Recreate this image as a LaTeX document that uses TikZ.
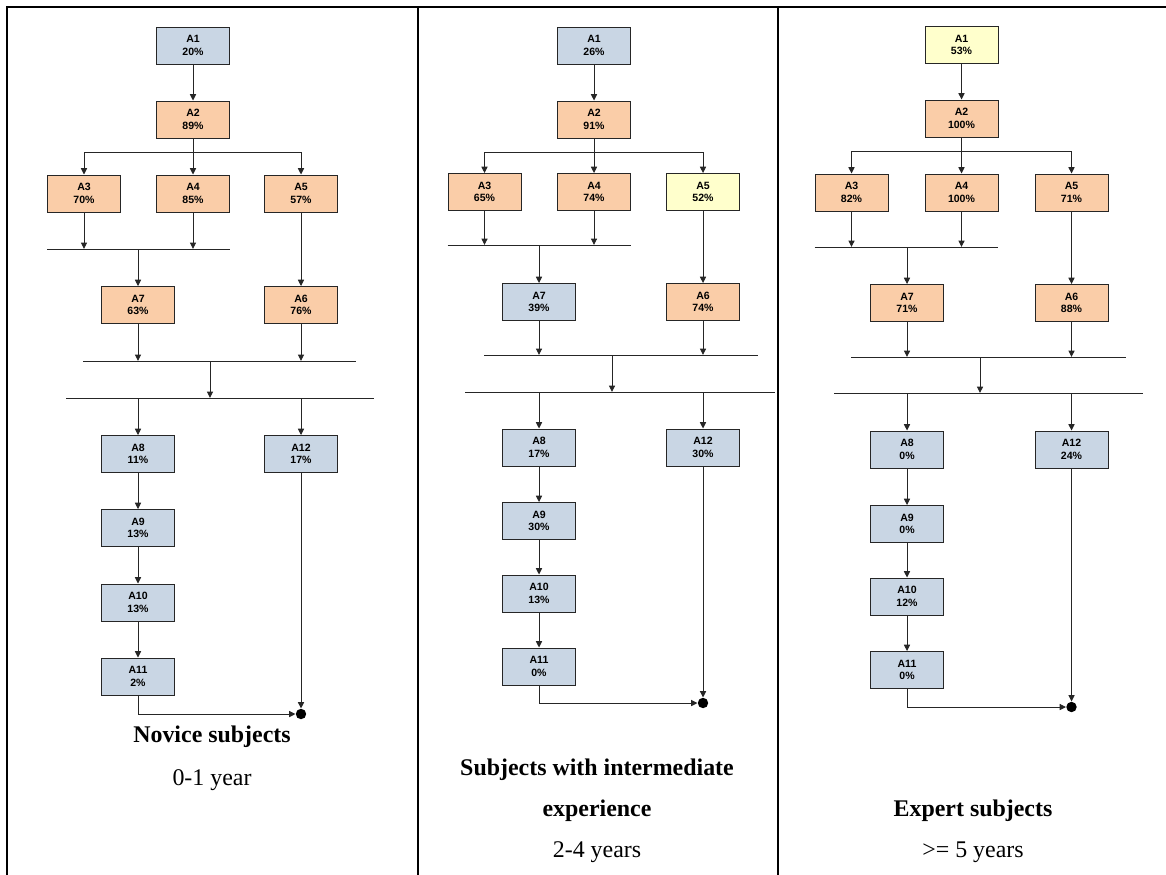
\documentclass[tikz,border=0pt]{standalone}
\usepackage{fontspec}
\setmainfont{Liberation Serif}
\setsansfont{Liberation Sans}
\usepackage{tikz}
\usetikzlibrary{arrows.meta}

\definecolor{boxblue}{RGB}{201,214,228}
\definecolor{boxorange}{RGB}{250,205,168}
\definecolor{boxyellow}{RGB}{255,255,204}

\tikzset{
  act/.style={draw=black!85, line width=0.65pt, minimum width=1.825cm, minimum height=0.925cm,
    inner sep=0pt, align=center, font=\fontsize{7.5}{8.9}\selectfont\sffamily\bfseries},
  actblue/.style={act, fill=boxblue},
  actorange/.style={act, fill=boxorange},
  actyellow/.style={act, fill=boxyellow},
  arr/.style={draw=black!85, line width=0.7pt, -{Triangle[length=4.6pt,width=4.4pt]}},
  bar/.style={draw=black!85, line width=0.7pt},
  enddot/.style={circle, fill=black, inner sep=0pt, minimum size=0.26cm},
  rule/.style={line width=1.45pt},
  title/.style={anchor=base, font=\fontsize{17}{20}\selectfont\bfseries},
  subtitle/.style={anchor=base, font=\fontsize{17}{20}\selectfont}
}

\begin{document}
\begin{tikzpicture}[x=0.025cm,y=-0.025cm]
\useasboundingbox (0,0) rectangle (1166,875);
% table
\draw[rule] (7,6.7) -- (1166,6.7);
\draw[rule] (7,6) -- (7,875);
\draw[rule] (417.7,6) -- (417.7,875);
\draw[rule] (777.8,6) -- (777.8,875);

% novice subjects
\node[actblue] (nA1) at (193,45.5) {A1\\20\%};
\node[actorange] (nA2) at (193,119.5) {A2\\89\%};
\node[actorange] (nA3) at (84,193.5) {A3\\70\%};
\node[actorange] (nA4) at (193,193.5) {A4\\85\%};
\node[actorange] (nA5) at (301,193.5) {A5\\57\%};
\node[actorange] (nA7) at (138,305) {A7\\63\%};
\node[actorange] (nA6) at (301,305) {A6\\76\%};
\node[actblue] (nA8) at (138,454) {A8\\11\%};
\node[actblue] (nA12) at (301,454) {A12\\17\%};
\node[actblue] (nA9) at (138,528) {A9\\13\%};
\node[actblue] (nA10) at (138,602.5) {A10\\13\%};
\node[actblue] (nA11) at (138,676.5) {A11\\2\%};
\node[enddot] (nE) at (301,714) {};
\coordinate (nB) at (193,152);
\coordinate (nJ) at (138,249);
\coordinate (nK) at (210,361);
\coordinate (nL) at (210,398);
\draw[arr] (nA1) -- (nA2);
\draw[arr] (nA2) -- (nA4);
\draw[arr] (nB) -| (nA3);
\draw[arr] (nB) -| (nA5);
\draw[arr] (nA3) -- (nA3 |- nJ);
\draw[arr] (nA4) -- (nA4 |- nJ);
\draw[bar] (nA3.west |- nJ) -- (nA4.east |- nJ);
\draw[arr] (nJ) -- (nA7);
\draw[arr] (nA5) -- (nA6);
\draw[arr] (nA7) -- (nA7 |- nK);
\draw[arr] (nA6) -- (nA6 |- nK);
\draw[bar] (83,361) -- (356,361);
\draw[arr] (nK) -- (nL);
\draw[bar] (66,398) -- (374,398);
\draw[arr] (nA8 |- nL) -- (nA8);
\draw[arr] (nA12 |- nL) -- (nA12);
\draw[arr] (nA8) -- (nA9);
\draw[arr] (nA9) -- (nA10);
\draw[arr] (nA10) -- (nA11);
\draw[arr] (nA11) |- (nE);
\draw[arr] (nA12) -- (nE);
\node[title] (nT) at (212,742.7) {Novice subjects};
\node[subtitle] (nS) at (212,785) {0-1 year};

% intermediate subjects
\node[actblue] (iA1) at (594,45.5) {A1\\26\%};
\node[actorange] (iA2) at (594,119.5) {A2\\91\%};
\node[actorange] (iA3) at (484.5,192) {A3\\65\%};
\node[actorange] (iA4) at (594,192) {A4\\74\%};
\node[actyellow] (iA5) at (703,192) {A5\\52\%};
\node[actblue] (iA7) at (539,302) {A7\\39\%};
\node[actorange] (iA6) at (703,302) {A6\\74\%};
\node[actblue] (iA8) at (539,447.5) {A8\\17\%};
\node[actblue] (iA12) at (703,447.5) {A12\\30\%};
\node[actblue] (iA9) at (539,521) {A9\\30\%};
\node[actblue] (iA10) at (539,593.5) {A10\\13\%};
\node[actblue] (iA11) at (539,666.5) {A11\\0\%};
\node[enddot] (iE) at (703,703) {};
\coordinate (iB) at (594,152);
\coordinate (iJ) at (539,245);
\coordinate (iK) at (612,355);
\coordinate (iL) at (612,392);
\draw[arr] (iA1) -- (iA2);
\draw[arr] (iA2) -- (iA4);
\draw[arr] (iB) -| (iA3);
\draw[arr] (iB) -| (iA5);
\draw[arr] (iA3) -- (iA3 |- iJ);
\draw[arr] (iA4) -- (iA4 |- iJ);
\draw[bar] (iA3.west |- iJ) -- (iA4.east |- iJ);
\draw[arr] (iJ) -- (iA7);
\draw[arr] (iA5) -- (iA6);
\draw[arr] (iA7) -- (iA7 |- iK);
\draw[arr] (iA6) -- (iA6 |- iK);
\draw[bar] (484,355) -- (758,355);
\draw[arr] (iK) -- (iL);
\draw[bar] (465,392) -- (775,392);
\draw[arr] (iA8 |- iL) -- (iA8);
\draw[arr] (iA12 |- iL) -- (iA12);
\draw[arr] (iA8) -- (iA9);
\draw[arr] (iA9) -- (iA10);
\draw[arr] (iA10) -- (iA11);
\draw[arr] (iA11) |- (iE);
\draw[arr] (iA12) -- (iE);
\node[title] (iT) at (597,775) {Subjects with intermediate};
\node[title] (iT2) at (597,816.7) {experience};
\node[subtitle] (iS) at (597,857.7) {2-4 years};

% expert subjects
\node[actyellow] (eA1) at (961.5,45) {A1\\53\%};
\node[actorange] (eA2) at (961.5,118.5) {A2\\100\%};
\node[actorange] (eA3) at (851.5,192.5) {A3\\82\%};
\node[actorange] (eA4) at (961.5,192.5) {A4\\100\%};
\node[actorange] (eA5) at (1071.5,192.5) {A5\\71\%};
\node[actorange] (eA7) at (907,303) {A7\\71\%};
\node[actorange] (eA6) at (1071.5,303) {A6\\88\%};
\node[actblue] (eA8) at (907,449.5) {A8\\0\%};
\node[actblue] (eA12) at (1071.5,449.5) {A12\\24\%};
\node[actblue] (eA9) at (907,524) {A9\\0\%};
\node[actblue] (eA10) at (907,596.5) {A10\\12\%};
\node[actblue] (eA11) at (907,670) {A11\\0\%};
\node[enddot] (eE) at (1071.5,707) {};
\coordinate (eB) at (961.5,151);
\coordinate (eJ) at (907,247);
\coordinate (eK) at (980,357);
\coordinate (eL) at (980,393);
\draw[arr] (eA1) -- (eA2);
\draw[arr] (eA2) -- (eA4);
\draw[arr] (eB) -| (eA3);
\draw[arr] (eB) -| (eA5);
\draw[arr] (eA3) -- (eA3 |- eJ);
\draw[arr] (eA4) -- (eA4 |- eJ);
\draw[bar] (eA3.west |- eJ) -- (eA4.east |- eJ);
\draw[arr] (eJ) -- (eA7);
\draw[arr] (eA5) -- (eA6);
\draw[arr] (eA7) -- (eA7 |- eK);
\draw[arr] (eA6) -- (eA6 |- eK);
\draw[bar] (851,357) -- (1126,357);
\draw[arr] (eK) -- (eL);
\draw[bar] (834,393) -- (1143,393);
\draw[arr] (eA8 |- eL) -- (eA8);
\draw[arr] (eA12 |- eL) -- (eA12);
\draw[arr] (eA8) -- (eA9);
\draw[arr] (eA9) -- (eA10);
\draw[arr] (eA10) -- (eA11);
\draw[arr] (eA11) |- (eE);
\draw[arr] (eA12) -- (eE);
\node[title] (eT) at (973,816.7) {Expert subjects};
\node[subtitle] (eS) at (973,857.7) {>= 5 years};
\end{tikzpicture}
\end{document}
